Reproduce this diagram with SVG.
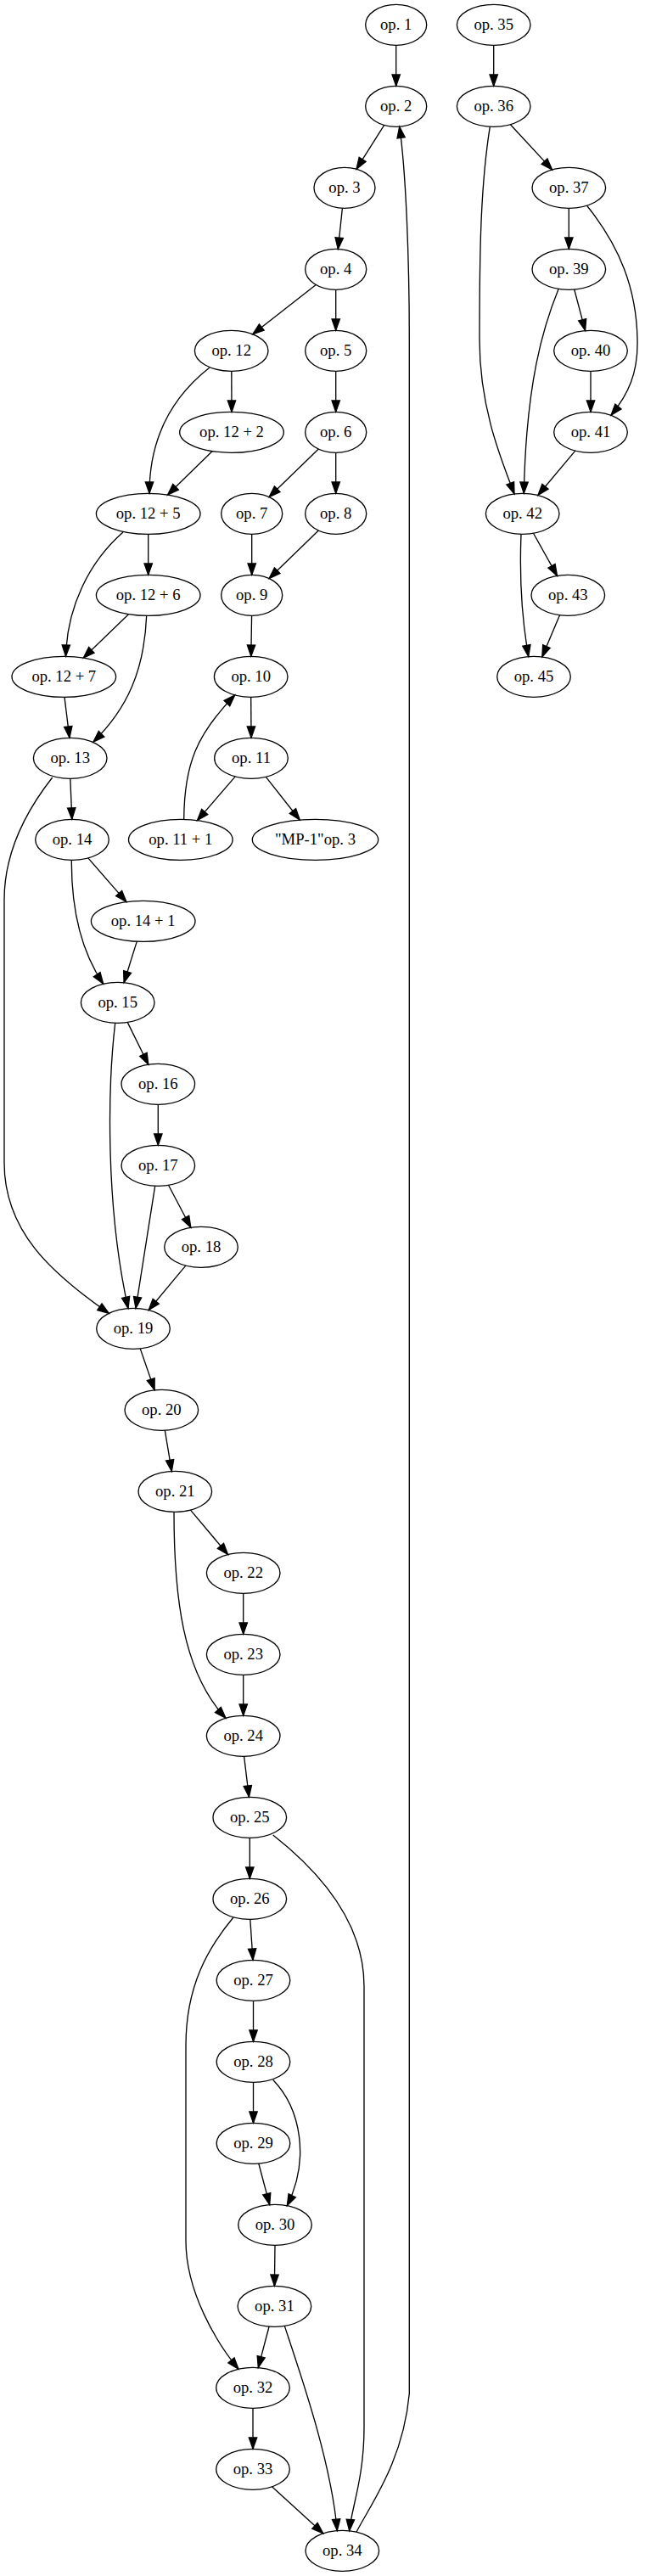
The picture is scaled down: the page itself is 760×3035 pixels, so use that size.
<svg xmlns="http://www.w3.org/2000/svg" width="760" height="3035" viewBox="0 0 760 3035">
<style>
.n ellipse{fill:none;stroke:#000;stroke-width:1.33}
.n text{font-family:"Liberation Serif","Times New Roman",serif;font-size:18.67px;text-anchor:middle;fill:#000}
.e path{fill:none;stroke:#000;stroke-width:1.33;marker-end:url(#a)}
</style>
<defs>
<marker id="a" markerUnits="userSpaceOnUse" viewBox="0 -6 16 12" markerWidth="16" markerHeight="12" refX="13.33" refY="0" orient="auto" overflow="visible">
<path d="M0,-4.67L13.33,0L0,4.67z" fill="#000" stroke="#000" stroke-width="1.33"/>
</marker>
</defs>
<rect width="760" height="3035" fill="#fff"/>
<g id="edges" class="e">
<path d="M466.7,53.3L466.7,101.3"/>
<path d="M452.7,147.4L420,199.2"/>
<path d="M403.4,245.3L398.3,293.4"/>
<path d="M372.3,335.5L297.8,393.7"/>
<path d="M395.7,341.3L395.7,389.3"/>
<path d="M395.7,437.3L395.7,485.3"/>
<path d="M272.8,437.3L273,485.3"/>
<path d="M246.7,433.3C200,470 176,520 176,581.3"/>
<path d="M250.2,531.6L197.5,583"/>
<path d="M375.3,529.1L317.1,585.5"/>
<path d="M395.7,533.3L395.7,581.3"/>
<path d="M296.7,629.3L296.7,677.3"/>
<path d="M375.3,625.1L317.1,681.5"/>
<path d="M174.7,629.3L174.7,677.3"/>
<path d="M145,627C105,662 79,715 77.5,773.3"/>
<path d="M151.7,723.5L98.3,775.1"/>
<path d="M172.7,725.3C170,790 150,835 110,874"/>
<path d="M76,821.3L81.9,869.3"/>
<path d="M296.6,725.3L295.8,773.3"/>
<path d="M295.7,821.3L296,869.3"/>
<path d="M277.2,914.9L232.5,966.6"/>
<path d="M313.3,915.3L353.2,966"/>
<path d="M216.7,965.3C217,900 232,865 276.7,819"/>
<path d="M82.8,917.3L84.8,965.3"/>
<path d="M61.7,916C35,950 5,1000 5,1060L5,1370C5,1450 60,1500 128.3,1547.3"/>
<path d="M103.8,1010.9L148.9,1062.6"/>
<path d="M84.3,1013.3C84,1070 95,1120 121.7,1159.2"/>
<path d="M161.3,1109.1L146.1,1157.7"/>
<path d="M150.2,1204.4L174.8,1254.2"/>
<path d="M135.7,1205.3C127,1280 124,1420 151,1541.5"/>
<path d="M186.3,1301.3L186.3,1349.3"/>
<path d="M198.5,1396.3L224.8,1446.3"/>
<path d="M182.7,1397.2L160,1541.4"/>
<path d="M218.8,1491.1L175.2,1543.5"/>
<path d="M165.2,1588.9L182.1,1637.7"/>
<path d="M194.3,1685.2L202.3,1733.4"/>
<path d="M224.5,1779.1L268.5,1831.5"/>
<path d="M205,1781.3C205,1880 215,1970 266,2024.2"/>
<path d="M286.7,1877.3L286.7,1925.3"/>
<path d="M286.7,1973.3L286.7,2021.3"/>
<path d="M287.6,2069.3L293.4,2117.3"/>
<path d="M294.3,2165.3L294.3,2213.3"/>
<path d="M321.7,2162C370,2200 429,2260 429,2340L429,2860C429,2920 414,2955 411.7,2981.8"/>
<path d="M294.8,2261.3L298,2309.3"/>
<path d="M275,2259C245,2295 219,2340 219,2410L219,2640C219,2700 255,2760 281,2791.2"/>
<path d="M298.5,2357.3L298.5,2405.3"/>
<path d="M298.5,2453.3L298.5,2501.3"/>
<path d="M321.7,2450.5C355,2485 365,2545 338.3,2598.7"/>
<path d="M304.8,2549L317.7,2597.6"/>
<path d="M324,2645.3L323.4,2693.3"/>
<path d="M317.1,2741L304.3,2789.6"/>
<path d="M335.3,2740.4C355,2800 390,2900 397.3,2981.5"/>
<path d="M298,2837.3L298,2885.3"/>
<path d="M320.5,2929.8L380.8,2984.8"/>
<path d="M420,2983.2C437,2950 475,2900 482.3,2820L482.3,400C482.3,300 478,200 470.7,149.2"/>
<path d="M581.7,53.3L581.7,101.3"/>
<path d="M601.4,146.7L650.6,199.9"/>
<path d="M577.3,149.3C566,220 565,300 565,400C565,480 590,540 606,581.9"/>
<path d="M670.3,245.3L670.3,293.3"/>
<path d="M691.7,242.5C730,290 750,340 751,400C752,440 740,465 720,489.3"/>
<path d="M676.7,341L689.6,389.6"/>
<path d="M658.3,340C640,385 620,450 617.3,581.3"/>
<path d="M696,437.3L696,485.3"/>
<path d="M677.8,531.1L633.9,583.5"/>
<path d="M628.5,628.2L656.5,678.4"/>
<path d="M614,629.3C612,680 615,730 622.7,773.5"/>
<path d="M659.5,724.7L638.8,773.9"/>
</g>
<g id="n1" class="n"><ellipse cx="466.7" cy="29.3" rx="36" ry="24"/><text x="466.7" y="35.3">op. 1</text></g>
<g id="n2" class="n"><ellipse cx="466.7" cy="125.3" rx="36" ry="24"/><text x="466.7" y="131.3">op. 2</text></g>
<g id="n3" class="n"><ellipse cx="406" cy="221.3" rx="36" ry="24"/><text x="406" y="227.3">op. 3</text></g>
<g id="n4" class="n"><ellipse cx="395.7" cy="317.3" rx="36" ry="24"/><text x="395.7" y="323.3">op. 4</text></g>
<g id="n5" class="n"><ellipse cx="395.7" cy="413.3" rx="36" ry="24"/><text x="395.7" y="419.3">op. 5</text></g>
<g id="n6" class="n"><ellipse cx="395.7" cy="509.3" rx="36" ry="24"/><text x="395.7" y="515.3">op. 6</text></g>
<g id="n7" class="n"><ellipse cx="296.7" cy="605.3" rx="36" ry="24"/><text x="296.7" y="611.3">op. 7</text></g>
<g id="n8" class="n"><ellipse cx="395.7" cy="605.3" rx="36" ry="24"/><text x="395.7" y="611.3">op. 8</text></g>
<g id="n9" class="n"><ellipse cx="296.7" cy="701.3" rx="36" ry="24"/><text x="296.7" y="707.3">op. 9</text></g>
<g id="n10" class="n"><ellipse cx="295.7" cy="797.3" rx="43.3" ry="24"/><text x="295.7" y="803.3">op. 10</text></g>
<g id="n11" class="n"><ellipse cx="296" cy="893.3" rx="43.3" ry="24"/><text x="296" y="899.3">op. 11</text></g>
<g id="n11_1" class="n"><ellipse cx="212.8" cy="989.3" rx="61.3" ry="24"/><text x="212.8" y="995.3">op. 11 + 1</text></g>
<g id="nMP1" class="n"><ellipse cx="371.5" cy="989.3" rx="74.2" ry="24"/><text x="371.5" y="995.3">"MP-1"op. 3</text></g>
<g id="n12" class="n"><ellipse cx="272.7" cy="413.3" rx="43.3" ry="24"/><text x="272.7" y="419.3">op. 12</text></g>
<g id="n12_2" class="n"><ellipse cx="273" cy="509.3" rx="61.3" ry="24"/><text x="273" y="515.3">op. 12 + 2</text></g>
<g id="n12_5" class="n"><ellipse cx="174.7" cy="605.3" rx="61.3" ry="24"/><text x="174.7" y="611.3">op. 12 + 5</text></g>
<g id="n12_6" class="n"><ellipse cx="174.7" cy="701.3" rx="61.3" ry="24"/><text x="174.7" y="707.3">op. 12 + 6</text></g>
<g id="n12_7" class="n"><ellipse cx="75.3" cy="797.3" rx="61.3" ry="24"/><text x="75.3" y="803.3">op. 12 + 7</text></g>
<g id="n13" class="n"><ellipse cx="82.7" cy="893.3" rx="43.3" ry="24"/><text x="82.7" y="899.3">op. 13</text></g>
<g id="n14" class="n"><ellipse cx="85" cy="989.3" rx="43.3" ry="24"/><text x="85" y="995.3">op. 14</text></g>
<g id="n14_1" class="n"><ellipse cx="168.7" cy="1085.3" rx="61.3" ry="24"/><text x="168.7" y="1091.3">op. 14 + 1</text></g>
<g id="n15" class="n"><ellipse cx="138.7" cy="1181.3" rx="43.3" ry="24"/><text x="138.7" y="1187.3">op. 15</text></g>
<g id="n16" class="n"><ellipse cx="186.3" cy="1277.3" rx="43.3" ry="24"/><text x="186.3" y="1283.3">op. 16</text></g>
<g id="n17" class="n"><ellipse cx="186.3" cy="1373.3" rx="43.3" ry="24"/><text x="186.3" y="1379.3">op. 17</text></g>
<g id="n18" class="n"><ellipse cx="237" cy="1469.3" rx="43.3" ry="24"/><text x="237" y="1475.3">op. 18</text></g>
<g id="n19" class="n"><ellipse cx="157" cy="1565.3" rx="43.3" ry="24"/><text x="157" y="1571.3">op. 19</text></g>
<g id="n20" class="n"><ellipse cx="190.3" cy="1661.3" rx="43.3" ry="24"/><text x="190.3" y="1667.3">op. 20</text></g>
<g id="n21" class="n"><ellipse cx="206.3" cy="1757.3" rx="43.3" ry="24"/><text x="206.3" y="1763.3">op. 21</text></g>
<g id="n22" class="n"><ellipse cx="286.7" cy="1853.3" rx="43.3" ry="24"/><text x="286.7" y="1859.3">op. 22</text></g>
<g id="n23" class="n"><ellipse cx="286.7" cy="1949.3" rx="43.3" ry="24"/><text x="286.7" y="1955.3">op. 23</text></g>
<g id="n24" class="n"><ellipse cx="286.7" cy="2045.3" rx="43.3" ry="24"/><text x="286.7" y="2051.3">op. 24</text></g>
<g id="n25" class="n"><ellipse cx="294.3" cy="2141.3" rx="43.3" ry="24"/><text x="294.3" y="2147.3">op. 25</text></g>
<g id="n26" class="n"><ellipse cx="294.3" cy="2237.3" rx="43.3" ry="24"/><text x="294.3" y="2243.3">op. 26</text></g>
<g id="n27" class="n"><ellipse cx="298.5" cy="2333.3" rx="43.3" ry="24"/><text x="298.5" y="2339.3">op. 27</text></g>
<g id="n28" class="n"><ellipse cx="298.5" cy="2429.3" rx="43.3" ry="24"/><text x="298.5" y="2435.3">op. 28</text></g>
<g id="n29" class="n"><ellipse cx="298.5" cy="2525.3" rx="43.3" ry="24"/><text x="298.5" y="2531.3">op. 29</text></g>
<g id="n30" class="n"><ellipse cx="324" cy="2621.3" rx="43.3" ry="24"/><text x="324" y="2627.3">op. 30</text></g>
<g id="n31" class="n"><ellipse cx="323.4" cy="2717.3" rx="43.3" ry="24"/><text x="323.4" y="2723.3">op. 31</text></g>
<g id="n32" class="n"><ellipse cx="298" cy="2813.3" rx="43.3" ry="24"/><text x="298" y="2819.3">op. 32</text></g>
<g id="n33" class="n"><ellipse cx="298" cy="2909.3" rx="43.3" ry="24"/><text x="298" y="2915.3">op. 33</text></g>
<g id="n34" class="n"><ellipse cx="403.3" cy="3005.3" rx="43.3" ry="24"/><text x="403.3" y="3011.3">op. 34</text></g>
<g id="n35" class="n"><ellipse cx="581.7" cy="29.3" rx="43.3" ry="24"/><text x="581.7" y="35.3">op. 35</text></g>
<g id="n36" class="n"><ellipse cx="581.7" cy="125.3" rx="43.3" ry="24"/><text x="581.7" y="131.3">op. 36</text></g>
<g id="n37" class="n"><ellipse cx="670.3" cy="221.3" rx="43.3" ry="24"/><text x="670.3" y="227.3">op. 37</text></g>
<g id="n39" class="n"><ellipse cx="670.3" cy="317.3" rx="43.3" ry="24"/><text x="670.3" y="323.3">op. 39</text></g>
<g id="n40" class="n"><ellipse cx="696" cy="413.3" rx="43.3" ry="24"/><text x="696" y="419.3">op. 40</text></g>
<g id="n41" class="n"><ellipse cx="696" cy="509.3" rx="43.3" ry="24"/><text x="696" y="515.3">op. 41</text></g>
<g id="n42" class="n"><ellipse cx="615.7" cy="605.3" rx="43.3" ry="24"/><text x="615.7" y="611.3">op. 42</text></g>
<g id="n43" class="n"><ellipse cx="669.3" cy="701.3" rx="43.3" ry="24"/><text x="669.3" y="707.3">op. 43</text></g>
<g id="n45" class="n"><ellipse cx="629" cy="797.3" rx="43.3" ry="24"/><text x="629" y="803.3">op. 45</text></g>
</svg>
